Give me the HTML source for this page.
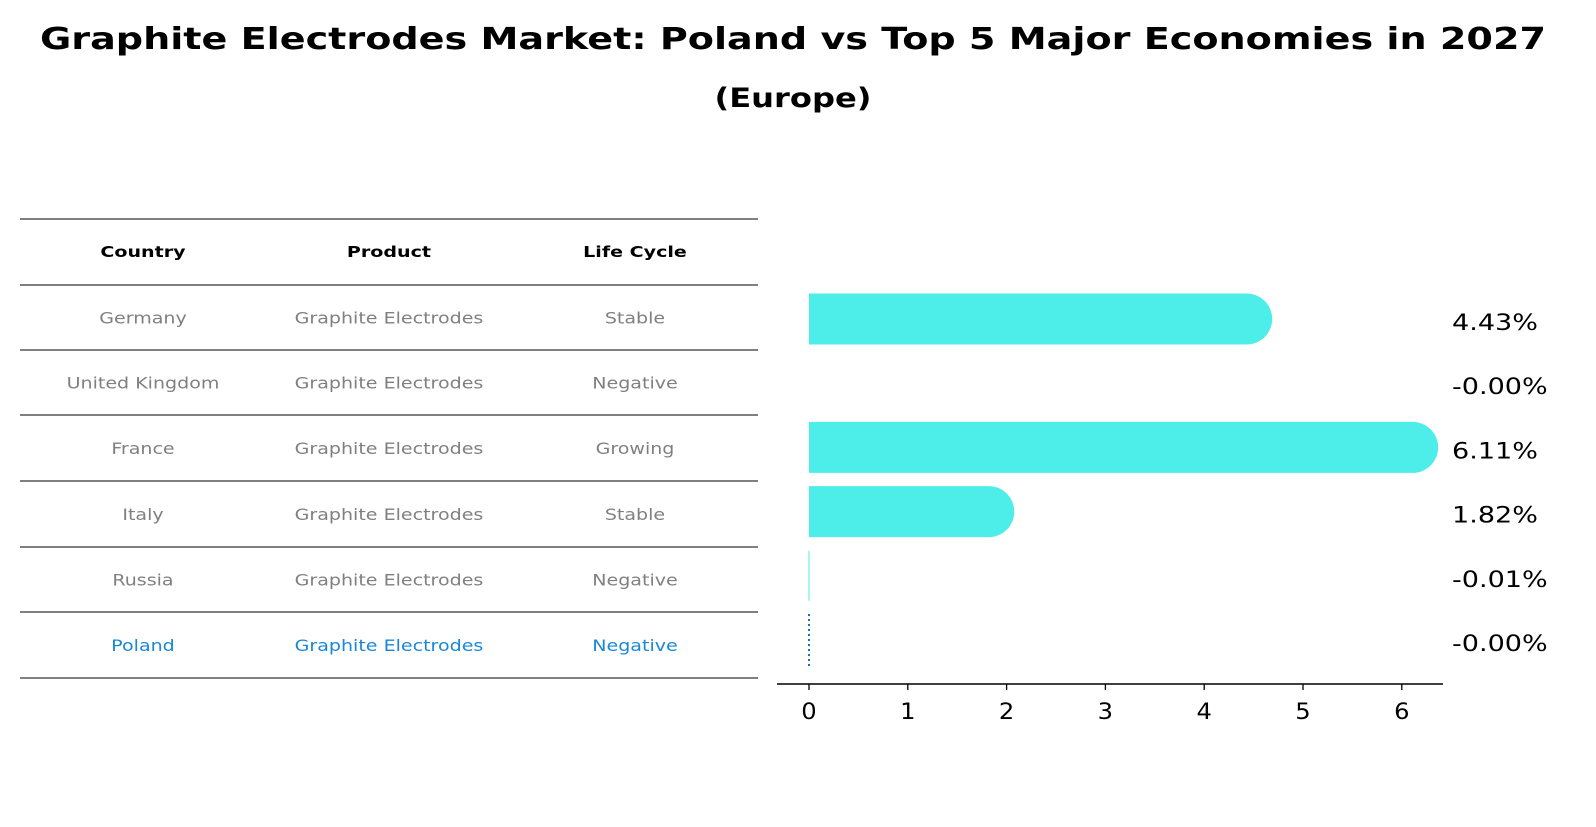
<!DOCTYPE html>
<html><head><meta charset="utf-8"><style>
body{margin:0;background:#fff;width:1596px;height:823px;overflow:hidden;font-family:"DejaVu Sans","Liberation Sans",sans-serif}
</style></head><body>
<svg id="svg" width="1596" height="823" xmlns="http://www.w3.org/2000/svg" font-family="DejaVu Sans, Liberation Sans, sans-serif">
<text x="793" y="49" text-anchor="middle" font-size="30" font-weight="bold" textLength="1506" lengthAdjust="spacingAndGlyphs">Graphite Electrodes Market: Poland vs Top 5 Major Economies in 2027</text>
<text x="793" y="107" text-anchor="middle" font-size="27" font-weight="bold" textLength="157" lengthAdjust="spacingAndGlyphs">(Europe)</text>
<g id="table"></g>
<g id="bars"></g>
</svg>
<script>
const countries=["Germany","United Kingdom","France","Italy","Russia","Poland"];
const products=["Graphite Electrodes","Graphite Electrodes","Graphite Electrodes","Graphite Electrodes","Graphite Electrodes","Graphite Electrodes"];
const lifeCycles=["Stable","Negative","Growing","Stable","Negative","Negative"];
const values=[4.43,-0.00,6.11,1.82,-0.01,-0.00];
const valueLabels=["4.43%","-0.00%","6.11%","1.82%","-0.01%","-0.00%"];
const xTicks=[0,1,2,3,4,5,6];

const NS="http://www.w3.org/2000/svg";
function mk(tag,attrs,parent,text){const e=document.createElementNS(NS,tag);for(const k in attrs)e.setAttribute(k,attrs[k]);if(text!==undefined)e.textContent=text;parent.appendChild(e);return e;}
function stretch(t,k){try{const w=t.getComputedTextLength();if(w>0){t.setAttribute('textLength',(w*k).toFixed(1));t.setAttribute('lengthAdjust','spacingAndGlyphs');}}catch(e){}}
const table=document.getElementById('table');
const lineYs=[219,285,350,415,481,547,612,678];
const colX=[143,389,635];
lineYs.forEach((y,i)=>{const l=mk('line',{x1:20,x2:758,y1:y,y2:y,stroke:'#000','stroke-width':1},table);

});
["Country","Product","Life Cycle"].forEach((h,j)=>{const t=mk('text',{x:colX[j],y:257,'text-anchor':'middle','font-size':15,'font-weight':'bold'},table,h);


stretch(t,1.27);});
countries.forEach((c,i)=>{const y=(lineYs[i+1]+lineYs[i+2])/2+6;const col=c==="Poland"?"#1a87d8":"#808080";
[c,products[i],lifeCycles[i]].forEach((v,j)=>{const t=mk('text',{x:colX[j],y:y,'text-anchor':'middle','font-size':16,fill:col},table,v);


stretch(t,1.19);});});

const bars=document.getElementById('bars');
const x0=809,pxPer=98.8;
const xs=v=>x0+v*pxPer;
const yc=i=>319+i*64.2;
const bh=51,r=25.5;
const axis=mk('line',{x1:777,x2:1443,y1:684,y2:684,stroke:'#000','stroke-width':1.5},bars);


xTicks.forEach(t=>{const l=mk('line',{x1:xs(t),x2:xs(t),y1:684,y2:690,stroke:'#000','stroke-width':1.3},bars);


const tx=mk('text',{x:xs(t),y:719,'text-anchor':'middle','font-size':22},bars,String(t));


stretch(tx,1.1);});
values.forEach((v,i)=>{const c=yc(i);
if(countries[i]==="Poland"){const l=mk('line',{x1:x0,x2:x0,y1:c-26,y2:c+26,stroke:'#1f6fb4','stroke-width':2,'stroke-dasharray':'2,3'},bars);

}
else if(v>0.05){const xe=xs(v);
const p=mk('path',{d:`M${x0},${c-bh/2} L${xe},${c-bh/2} A${r},${r} 0 0 1 ${xe},${c+bh/2} L${x0},${c+bh/2} Z`,fill:'#4deeea'},bars);

}
else if(v<0){const l=mk('line',{x1:x0,x2:x0,y1:c-25,y2:c+25,stroke:'#4deeea','stroke-width':1},bars);

}
const t=mk('text',{x:1452,y:c+11,'font-size':22},bars,valueLabels[i]);


stretch(t,1.23);});
</script>
</body></html>
